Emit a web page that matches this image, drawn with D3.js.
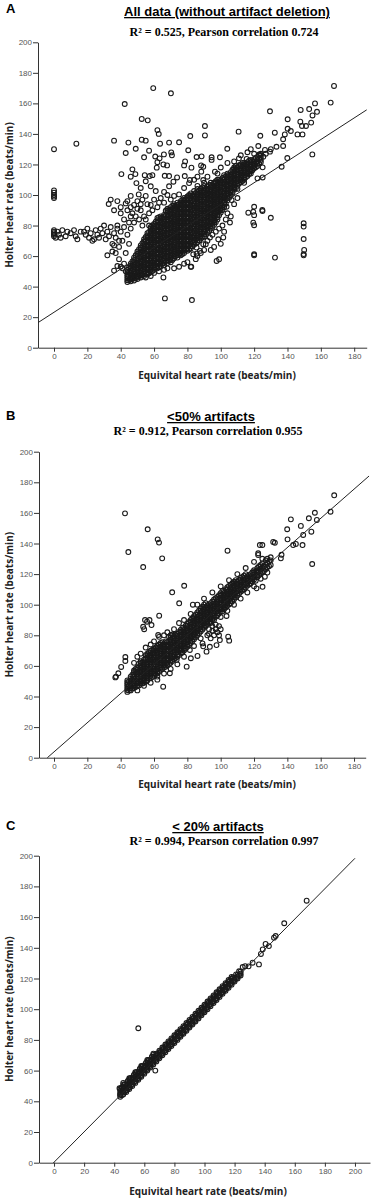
<!DOCTYPE html>
<html>
<head>
<meta charset="utf-8">
<script src="https://cdn.jsdelivr.net/npm/d3@7"></script>
<style>
  body { margin: 0; background: #fff; }
  svg { display: block; }
  .tick text { font-family: 'Liberation Sans', Arial, sans-serif; font-size: 8px; fill: #555; }
  .tick line, .domain { stroke: #333; }
</style>
</head>
<body>
<div id="chart"></div>
<script>
const panelLetters = ['A', 'B', 'C'];
const panelTitles = ['All data (without artifact deletion)', '<50% artifacts', '< 20% artifacts'];
const panelStats = [
  'R\u00b2 = 0.525, Pearson correlation 0.724',
  'R\u00b2 = 0.912, Pearson correlation 0.955',
  'R\u00b2 = 0.994, Pearson correlation 0.997'
];
const xTitle = 'Equivital heart rate (beats/min)';
const yTitle = 'Holter heart rate (beats/min)';
const yTicks = [0, 20, 40, 60, 80, 100, 120, 140, 160, 180, 200];
const xTicksAB = [0, 20, 40, 60, 80, 100, 120, 140, 160, 180];
const xTicksC = [0, 20, 40, 60, 80, 100, 120, 140, 160, 180, 200];

// fit lines: [intercept, slope, xStart, xEnd]
const fitA = [23.2, 0.707, -9.6, 187.5];
const fitB = [3.8, 0.954, -4, 189];
const fitC = [0.3, 0.99, -0.5, 200];

// dense cores, one column per entry: [x, y1, y2, ...]
const coreA = [
  [44, 43, 45.5, 48, 51],
  [46, 43.5, 46, 49, 52, 55],
  [48, 44, 47, 50, 53, 56, 59],
  [50, 45, 48, 51, 54, 57, 60, 63],
  [52, 46, 49, 52, 55, 58, 61, 64, 67],
  [54, 47, 50, 53, 56, 59, 62, 65, 68, 71],
  [56, 48, 51, 54, 57, 60, 63, 66, 69, 72, 75],
  [58, 49.5, 52.5, 55.5, 58.5, 61.5, 64.5, 67.5, 70.5, 73.5, 76.5, 79],
  [60, 51, 54, 57, 60, 63, 66, 69, 72, 75, 78, 81],
  [62, 52, 55, 58, 61, 64, 67, 70, 73, 76, 79, 82, 85],
  [64, 53.5, 56.5, 59.5, 62.5, 65.5, 68.5, 71.5, 74.5, 77.5, 80.5, 83.5, 86],
  [66, 54, 57, 60, 63, 66, 69, 72, 75, 78, 81, 84, 87],
  [68, 55.5, 58.5, 61.5, 64.5, 67.5, 70.5, 73.5, 76.5, 79.5, 82.5, 85.5, 88.5, 91],
  [70, 56, 59, 62, 65, 68, 71, 74, 77, 80, 83, 86, 89, 92],
  [72, 58.5, 61.5, 64.5, 67.5, 70.5, 73.5, 76.5, 79.5, 82.5, 85.5, 88.5, 91.5, 94],
  [74, 59, 62, 65, 68, 71, 74, 77, 80, 83, 86, 89, 92, 95],
  [76, 60.5, 63.5, 66.5, 69.5, 72.5, 75.5, 78.5, 81.5, 84.5, 87.5, 90.5, 93.5, 96],
  [78, 62, 65, 68, 71, 74, 77, 80, 83, 86, 89, 92, 95, 98],
  [80, 63.5, 66.5, 69.5, 72.5, 75.5, 78.5, 81.5, 84.5, 87.5, 90.5, 93.5, 96.5, 99],
  [82, 65, 68, 71, 74, 77, 80, 83, 86, 89, 92, 95, 98, 101],
  [84, 67.5, 70.5, 73.5, 76.5, 79.5, 82.5, 85.5, 88.5, 91.5, 94.5, 97.5, 100.5],
  [86, 69, 72, 75, 78, 81, 84, 87, 90, 93, 96, 99, 102, 104],
  [88, 71.5, 74.5, 77.5, 80.5, 83.5, 86.5, 89.5, 92.5, 95.5, 98.5, 101.5, 104],
  [90, 73, 76, 79, 82, 85, 88, 91, 94, 97, 100, 103, 106],
  [92, 75.5, 78.5, 81.5, 84.5, 87.5, 90.5, 93.5, 96.5, 99.5, 102.5, 105.5],
  [94, 78, 81, 84, 87, 90, 93, 96, 99, 102, 105, 108],
  [96, 80.5, 83.5, 86.5, 89.5, 92.5, 95.5, 98.5, 101.5, 104.5, 107.5],
  [98, 84, 87, 90, 93, 96, 99, 102, 105, 108, 110],
  [100, 88.5, 91.5, 94.5, 97.5, 100.5, 103.5, 106.5, 109.5],
  [102, 92, 95, 98, 101, 104, 107, 110, 113],
  [104, 96.5, 99.5, 102.5, 105.5, 108.5, 111.5, 114],
  [106, 100, 103, 106, 109, 112, 115],
  [108, 103.5, 106.5, 109.5, 112.5, 115.5, 118],
  [110, 106, 109, 112, 115, 118],
  [112, 108.5, 111.5, 114.5, 117.5, 120],
  [114, 110, 113, 116, 119, 121],
  [116, 112.5, 115.5, 118.5, 121.5],
  [118, 114, 117, 120, 123],
  [120, 117.5, 120.5, 123.5],
  [122, 119, 122, 125],
  [124, 121.5, 124.5, 127]
];

const coreAMid = [
  [44, 44.2, 46.8, 49.5],
  [46, 44.8, 47.5, 50.5, 53.5],
  [48, 45.5, 48.5, 51.5, 54.5, 57.5],
  [50, 46.5, 49.5, 52.5, 55.5, 58.5, 61.5],
  [52, 47.5, 50.5, 53.5, 56.5, 59.5, 62.5, 65.5],
  [54, 48.5, 51.5, 54.5, 57.5, 60.5, 63.5, 66.5, 69.5],
  [56, 49.5, 52.5, 55.5, 58.5, 61.5, 64.5, 67.5, 70.5, 73.5],
  [58, 51, 54, 57, 60, 63, 66, 69, 72, 75, 78],
  [60, 52.5, 55.5, 58.5, 61.5, 64.5, 67.5, 70.5, 73.5, 76.5, 79.5],
  [62, 53.5, 56.5, 59.5, 62.5, 65.5, 68.5, 71.5, 74.5, 77.5, 80.5, 83.5],
  [64, 55, 58, 61, 64, 67, 70, 73, 76, 79, 82, 85],
  [66, 55.5, 58.5, 61.5, 64.5, 67.5, 70.5, 73.5, 76.5, 79.5, 82.5, 85.5],
  [68, 57, 60, 63, 66, 69, 72, 75, 78, 81, 84, 87, 90],
  [70, 57.5, 60.5, 63.5, 66.5, 69.5, 72.5, 75.5, 78.5, 81.5, 84.5, 87.5, 90.5],
  [72, 60, 63, 66, 69, 72, 75, 78, 81, 84, 87, 90, 93],
  [74, 60.5, 63.5, 66.5, 69.5, 72.5, 75.5, 78.5, 81.5, 84.5, 87.5, 90.5, 93.5],
  [76, 62, 65, 68, 71, 74, 77, 80, 83, 86, 89, 92, 95],
  [78, 63.5, 66.5, 69.5, 72.5, 75.5, 78.5, 81.5, 84.5, 87.5, 90.5, 93.5, 96.5],
  [80, 65, 68, 71, 74, 77, 80, 83, 86, 89, 92, 95, 98],
  [82, 66.5, 69.5, 72.5, 75.5, 78.5, 81.5, 84.5, 87.5, 90.5, 93.5, 96.5, 99.5],
  [84, 69, 72, 75, 78, 81, 84, 87, 90, 93, 96, 99],
  [86, 70.5, 73.5, 76.5, 79.5, 82.5, 85.5, 88.5, 91.5, 94.5, 97.5, 100.5],
  [88, 73, 76, 79, 82, 85, 88, 91, 94, 97, 100, 103],
  [90, 74.5, 77.5, 80.5, 83.5, 86.5, 89.5, 92.5, 95.5, 98.5, 101.5, 104.5],
  [92, 77, 80, 83, 86, 89, 92, 95, 98, 101, 104],
  [94, 79.5, 82.5, 85.5, 88.5, 91.5, 94.5, 97.5, 100.5, 103.5, 106.5],
  [96, 82, 85, 88, 91, 94, 97, 100, 103, 106],
  [98, 85.5, 88.5, 91.5, 94.5, 97.5, 100.5, 103.5, 106.5],
  [100, 90, 93, 96, 99, 102, 105, 108],
  [102, 93.5, 96.5, 99.5, 102.5, 105.5, 108.5, 111.5],
  [104, 98, 101, 104, 107, 110, 113],
  [106, 101.5, 104.5, 107.5, 110.5, 113.5],
  [108, 105, 108, 111, 114, 117],
  [110, 107.5, 110.5, 113.5, 116.5],
  [112, 110, 113, 116, 119],
  [114, 111.5, 114.5, 117.5, 120],
  [116, 114, 117, 120],
  [118, 115.5, 118.5, 121.5],
  [120, 119, 122],
  [122, 120.5, 123.5],
  [124, 123, 126]
];

const coreAFill = [
  [45, 44.2, 47, 49.7, 52.5],
  [47, 45, 47.5, 50.5, 53.5, 56.5],
  [49, 45.5, 48.5, 51.5, 54.5, 57.5, 60.5],
  [51, 46.5, 49.5, 52.5, 55.5, 58.5, 61.5, 64.5],
  [53, 47.5, 50.5, 53.5, 56.5, 59.5, 62.5, 65.5, 68.5],
  [55, 48.5, 51.5, 54.5, 57.5, 60.5, 63.5, 66.5, 69.5, 72.5],
  [57, 48.8, 51.8, 54.8, 57.8, 60.8, 63.8, 66.8, 69.8, 72.8, 75.8],
  [59, 50.2, 53.2, 56.2, 59.2, 62.2, 65.2, 68.2, 71.2, 74.2, 77.2, 80],
  [61, 52.5, 55.5, 58.5, 61.5, 64.5, 67.5, 70.5, 73.5, 76.5, 79.5, 82.5],
  [63, 52.8, 55.8, 58.8, 61.8, 64.8, 67.8, 70.8, 73.8, 76.8, 79.8, 82.8, 85.5],
  [65, 55, 58, 61, 64, 67, 70, 73, 76, 79, 82, 85],
  [67, 56.7, 59.7, 62.7, 65.7, 68.7, 71.7, 74.7, 77.7, 80.7, 83.7, 86.7, 89.7],
  [69, 57, 60, 63, 66, 69, 72, 75, 78, 81, 84, 87, 90],
  [71, 57.5, 60.5, 63.5, 66.5, 69.5, 72.5, 75.5, 78.5, 81.5, 84.5, 87.5, 90.5, 93],
  [73, 60, 63, 66, 69, 72, 75, 78, 81, 84, 87, 90, 93],
  [75, 61.2, 64.2, 67.2, 70.2, 73.2, 76.2, 79.2, 82.2, 85.2, 88.2, 91.2, 94.2],
  [77, 61.3, 64.3, 67.3, 70.3, 73.3, 76.3, 79.3, 82.3, 85.3, 88.3, 91.3, 94.3, 97],
  [79, 64.2, 67.2, 70.2, 73.2, 76.2, 79.2, 82.2, 85.2, 88.2, 91.2, 94.2, 97.2],
  [81, 64.3, 67.3, 70.3, 73.3, 76.3, 79.3, 82.3, 85.3, 88.3, 91.3, 94.3, 97.3, 100],
  [83, 66.5, 69.5, 72.5, 75.5, 78.5, 81.5, 84.5, 87.5, 90.5, 93.5, 96.5, 99.5],
  [85, 68.3, 71.3, 74.3, 77.3, 80.3, 83.3, 86.3, 89.3, 92.3, 95.3, 98.3, 101.3],
  [87, 70.2, 73.2, 76.2, 79.2, 82.2, 85.2, 88.2, 91.2, 94.2, 97.2, 100.2, 103],
  [89, 72.2, 75.2, 78.2, 81.2, 84.2, 87.2, 90.2, 93.2, 96.2, 99.2, 102.2, 105],
  [91, 74.2, 77.2, 80.2, 83.2, 86.2, 89.2, 92.2, 95.2, 98.2, 101.2, 104.2],
  [93, 76.5, 79.5, 82.5, 85.5, 88.5, 91.5, 94.5, 97.5, 100.5, 103.5, 106.5],
  [95, 79.2, 82.2, 85.2, 88.2, 91.2, 94.2, 97.2, 100.2, 103.2, 106.2],
  [97, 82.2, 85.2, 88.2, 91.2, 94.2, 97.2, 100.2, 103.2, 106.2, 109],
  [99, 86.7, 89.7, 92.7, 95.7, 98.7, 101.7, 104.7, 107.7, 110],
  [101, 90.2, 93.2, 96.2, 99.2, 102.2, 105.2, 108.2, 111.2],
  [103, 94.2, 97.2, 100.2, 103.2, 106.2, 109.2, 112.2],
  [105, 98.2, 101.2, 104.2, 107.2, 110.2, 113.2],
  [107, 101.5, 104.5, 107.5, 110.5, 113.5, 116.5],
  [109, 104.5, 107.5, 110.5, 113.5, 116.5, 119],
  [111, 107.5, 110.5, 113.5, 116.5, 119.5],
  [113, 109.2, 112.2, 115.2, 118.2, 121],
  [115, 111.7, 114.7, 117.7, 120.7],
  [117, 113.7, 116.7, 119.7, 122.5],
  [119, 116.2, 119.2, 122.2],
  [121, 118.2, 121.2, 124.2],
  [123, 120.7, 123.7, 126.5]
];

const scatterA = [
  [0, 130], [0, 103], [0, 101.5], [0, 100], [0, 99], [0, 98],
  [0, 77], [0, 76], [0, 75], [0, 74], [0, 73], [1, 72], [2, 76], [3, 74], [4, 72], [5, 77],
  [7, 73], [8, 76], [10, 75], [12, 77], [13, 73], [14, 71], [16, 76], [18, 76], [19, 74],
  [20, 78], [21, 72], [22, 75], [23, 70], [24, 71], [25, 77], [26, 74], [27, 72], [28, 78],
  [29, 75], [30, 80], [31, 71], [32, 76], [33, 73], [34, 79], [35, 68], [36, 75], [37, 72],
  [38, 78], [39, 70], [32, 60.5], [32.8, 94.1],
  [13.4, 133.6], [42.4, 159.6], [59.5, 170], [70.1, 166.6], [52.6, 149.8], [56.2, 148.9],
  [62, 142.5], [62.8, 140], [36, 135.6], [44.6, 134.3], [52.6, 136.2], [55, 135.6],
  [63.6, 133.6], [69, 134.3], [75, 134.5], [81.7, 138.6], [43, 127.5], [49, 130.3], [57, 129],
  [54, 124.7], [60.7, 125.2], [63.3, 124], [65.9, 126.6], [70.3, 127.9], [70.7, 126],
  [80.5, 129.3], [85.5, 124.9], [88.5, 125.3], [62, 121.5], [65.6, 120], [67.8, 119.4],
  [61.6, 117.9], [78.6, 122], [78, 119.4], [82.4, 117.9], [88.2, 119.4], [40.4, 113.7],
  [47, 116.8], [48.8, 113.7], [46, 112], [54.4, 113], [57.4, 112.4], [59, 113], [66.4, 112.6],
  [69, 112.4], [71.6, 108.7], [73.8, 111.5], [78.4, 112.4], [81.5, 109.8], [86, 112],
  [88.3, 115.3], [49.4, 107.8], [52, 104.6], [55, 109], [58, 105.7], [50.8, 100.4],
  [55, 99.4], [61, 102.6], [66, 102], [69, 105.7], [72, 99.4], [75, 100.4], [78, 104.6],
  [81, 107.8], [84, 102.6], [43, 94.5], [46, 99.4], [48, 93.5], [58, 93.5],
  [40, 88], [42, 84], [44, 90], [46, 86], [48, 82], [50, 96], [52, 90], [54, 86], [56, 94],
  [60, 97], [62, 92], [64, 98], [66, 95], [68, 100], [70, 97], [38, 80], [40, 76], [42, 79],
  [44, 74], [46, 78], [36, 67], [39, 66], [41, 70], [43, 62], [45, 68], [35, 63], [37, 62],
  [39, 58], [40, 53], [41, 52], [36, 50.5], [38, 53.5], [42, 55], [43, 50], [46, 92],
  [51, 84], [53, 80], [57, 88], [34, 97], [38, 96], [40, 92], [36, 90], [44, 96], [47, 88],
  [50, 91], [53, 97], [55, 84], [57, 80], [45, 82], [49, 86], [52, 94], [59, 90], [63, 95],
  [47, 46], [50, 47], [52, 48], [55, 46], [58, 47], [60, 49], [63, 50], [66, 51], [68, 52],
  [72, 52], [75, 53], [78, 55], [80, 56], [82, 53], [65.6, 46], [66.5, 32.3], [82.7, 31.2],
  [82.3, 53], [85, 58], [86, 60], [88, 62], [90, 64], [83.5, 61.2], [85.5, 61.6], [87.5, 63.4],
  [85.5, 65.6], [89.5, 67.8], [91, 67.8], [93.5, 72.2], [98.5, 71], [101.5, 72.2],
  [105.5, 82], [103.5, 92.3], [106.5, 96.7], [97.5, 56.8], [99, 57.9], [92, 70], [95, 74],
  [97, 76], [99, 78], [101, 80], [103, 84], [104, 88], [96, 66], [94, 64], [100, 68],
  [102, 76], [106, 86], [108, 94], [110, 98],
  [116.5, 88.4], [120, 92.3], [119.5, 89], [120, 86.8], [125, 89.5], [130, 85.1],
  [119.5, 81.9], [120, 80.2], [120, 61.2], [120, 60.5], [132.5, 59], [149.7, 81.5],
  [149.7, 79.3], [149.7, 71.2], [150, 64], [149.7, 61.3], [149.7, 60.5], [124.9, 90.2],
  [167.9, 171.4], [165.9, 160.5], [156.5, 160], [157.7, 154.5], [153, 156.3], [155, 152.1],
  [147.9, 155.7], [154.2, 147.4], [140.1, 149.6], [151.1, 145.2], [147.7, 148], [148.7, 145.2],
  [140.1, 143.4], [142, 141.9], [146, 139.7], [149, 139.7], [138.4, 139.7], [137.4, 136.5],
  [132.4, 140.8], [129.5, 154.8], [123.7, 138.8], [110.7, 141.5], [103.9, 130.3], [90.5, 145.2],
  [90.5, 139], [137.4, 132.1], [133.4, 131.6], [122.5, 132.1], [126.5, 129.5], [129.5, 128.4],
  [125.5, 125.1], [139.9, 124.2], [154.9, 126.6], [136.5, 118.5], [125.1, 118.1], [122, 110.9],
  [125.1, 111.5], [110.9, 124], [115.5, 123.6], [99.5, 124.7], [94.5, 124.7], [94.5, 123],
  [89.5, 118.5], [89.5, 109.8], [96.5, 115.3],
  [100, 118], [104, 121], [108, 122], [112, 126], [116, 128], [118, 130], [120, 127],
  [123, 126], [127, 127], [130, 130], [112, 112], [116, 114], [118, 116], [92, 112], [96, 108],
  [98, 114], [93, 100], [90, 108], [86, 106], [84, 110], [110, 104], [114, 108]
];

const coreB = [
  [44, 43, 45.5, 48, 50.5],
  [45, 44, 47, 50],
  [46, 44, 47, 50, 53],
  [48, 45.5, 48.5, 51.5, 54.5, 57],
  [50, 47, 50, 53, 56, 59],
  [52, 48.5, 51.5, 54.5, 57.5, 60.5, 63],
  [54, 49, 52, 55, 58, 61, 64],
  [56, 50.5, 53.5, 56.5, 59.5, 62.5, 65.5, 68],
  [58, 52, 55, 58, 61, 64, 67, 70],
  [60, 53.5, 56.5, 59.5, 62.5, 65.5, 68.5, 71],
  [62, 55, 58, 61, 64, 67, 70, 73],
  [64, 57.5, 60.5, 63.5, 66.5, 69.5, 72.5, 75],
  [66, 59, 62, 65, 68, 71, 74],
  [68, 60.5, 63.5, 66.5, 69.5, 72.5, 75.5],
  [70, 62, 65, 68, 71, 74, 77, 80],
  [72, 64.5, 67.5, 70.5, 73.5, 76.5, 79.5],
  [74, 66, 69, 72, 75, 78, 81],
  [76, 68.5, 71.5, 74.5, 77.5, 80.5, 83.5],
  [78, 70, 73, 76, 79, 82, 85],
  [80, 72.5, 75.5, 78.5, 81.5, 84.5, 87.5],
  [82, 75, 78, 81, 84, 87, 90],
  [84, 77.5, 80.5, 83.5, 86.5, 89.5, 92.5],
  [86, 80, 83, 86, 89, 92, 95],
  [88, 82.5, 85.5, 88.5, 91.5, 94.5, 97.5],
  [90, 85, 88, 91, 94, 97, 100],
  [92, 87.5, 90.5, 93.5, 96.5, 99.5],
  [94, 89, 92, 95, 98, 101],
  [96, 91.5, 94.5, 97.5, 100.5, 103.5],
  [98, 93, 96, 99, 102, 105],
  [100, 95.5, 98.5, 101.5, 104.5, 107.5],
  [102, 97, 100, 103, 106, 109],
  [104, 99.5, 102.5, 105.5, 108.5, 111.5],
  [106, 101, 104, 107, 110, 113],
  [108, 103.5, 106.5, 109.5, 112.5, 115],
  [110, 106, 109, 112, 115],
  [112, 108.5, 111.5, 114.5, 117.5],
  [114, 110, 113, 116, 119],
  [116, 112.5, 115.5, 118.5],
  [118, 114, 117, 120],
  [120, 116.5, 119.5, 122.5],
  [122, 118, 121, 124],
  [124, 120.5, 123.5, 126],
  [126, 122, 125],
  [128, 124.5, 127.5],
  [130, 126, 129]
];

const coreBMid = [
  [44, 44.2, 46.8, 49.2],
  [46, 45.5, 48.5, 51.5],
  [48, 47, 50, 53, 56],
  [50, 48.5, 51.5, 54.5, 57.5],
  [52, 50, 53, 56, 59, 62],
  [54, 50.5, 53.5, 56.5, 59.5, 62.5],
  [56, 52, 55, 58, 61, 64, 67],
  [58, 53.5, 56.5, 59.5, 62.5, 65.5, 68.5],
  [60, 55, 58, 61, 64, 67, 70],
  [62, 56.5, 59.5, 62.5, 65.5, 68.5, 71.5],
  [64, 59, 62, 65, 68, 71, 74],
  [66, 60.5, 63.5, 66.5, 69.5, 72.5],
  [68, 62, 65, 68, 71, 74],
  [70, 63.5, 66.5, 69.5, 72.5, 75.5, 78.5],
  [72, 66, 69, 72, 75, 78],
  [74, 67.5, 70.5, 73.5, 76.5, 79.5],
  [76, 70, 73, 76, 79, 82],
  [78, 71.5, 74.5, 77.5, 80.5, 83.5],
  [80, 74, 77, 80, 83, 86],
  [82, 76.5, 79.5, 82.5, 85.5, 88.5],
  [84, 79, 82, 85, 88, 91],
  [86, 81.5, 84.5, 87.5, 90.5, 93.5],
  [88, 84, 87, 90, 93, 96],
  [90, 86.5, 89.5, 92.5, 95.5, 98.5],
  [92, 89, 92, 95, 98],
  [94, 90.5, 93.5, 96.5, 99.5],
  [96, 93, 96, 99, 102],
  [98, 94.5, 97.5, 100.5, 103.5],
  [100, 97, 100, 103, 106],
  [102, 98.5, 101.5, 104.5, 107.5],
  [104, 101, 104, 107, 110],
  [106, 102.5, 105.5, 108.5, 111.5],
  [108, 105, 108, 111, 114],
  [110, 107.5, 110.5, 113.5],
  [112, 110, 113, 116],
  [114, 111.5, 114.5, 117.5],
  [116, 114, 117],
  [118, 115.5, 118.5],
  [120, 118, 121],
  [122, 119.5, 122.5],
  [124, 122, 125]
];

const coreBFill = [
  [47, 45.2, 48.2, 51.2, 54.2],
  [49, 46.2, 49.2, 52.2, 55.2, 58],
  [51, 47.2, 50.2, 53.2, 56.2, 59.2, 61.5],
  [53, 48.5, 50.2, 53.2, 56.2, 59.2, 62.2],
  [55, 49.7, 52.7, 55.7, 58.7, 61.7, 64.7, 67],
  [57, 51.7, 54.7, 57.7, 60.7, 63.7, 66.7, 69],
  [59, 52.7, 55.7, 58.7, 61.7, 64.7, 67.7, 70.5],
  [61, 54.7, 57.7, 60.7, 63.7, 66.7, 69.7, 72],
  [63, 56.2, 59.2, 62.2, 65.2, 68.2, 71.2, 74],
  [65, 58.2, 61.2, 64.2, 67.2, 70.2, 73.2, 75.5],
  [67, 59.5, 61.2, 64.2, 67.2, 70.2, 73.2, 76],
  [69, 61.2, 64.2, 67.2, 70.2, 73.2, 76.2, 79],
  [71, 63.2, 66.2, 69.2, 72.2, 75.2, 78.2, 80.5],
  [73, 65.2, 68.2, 71.2, 74.2, 77.2, 80.2],
  [75, 67.2, 70.2, 73.2, 76.2, 79.2, 82.2],
  [77, 68.8, 70.7, 73.7, 76.7, 79.7, 82.7, 85],
  [79, 71.2, 74.2, 77.2, 80.2, 83.2, 86.2],
  [81, 73.7, 76.7, 79.7, 82.7, 85.7, 88.7],
  [83, 76.2, 79.2, 82.2, 85.2, 88.2, 91.2],
  [85, 78.7, 81.7, 84.7, 87.7, 90.7, 93.7],
  [87, 81.2, 84.2, 87.2, 90.2, 93.2, 96.2],
  [89, 83.7, 86.7, 89.7, 92.7, 95.7, 98.7],
  [91, 86.2, 89.2, 92.2, 95.2, 98.2, 101],
  [93, 88.2, 91.2, 94.2, 97.2, 100.2],
  [95, 90.2, 93.2, 96.2, 99.2, 102.2],
  [97, 92.2, 95.2, 98.2, 101.2, 104.2],
  [99, 94.2, 97.2, 100.2, 103.2, 106.2],
  [101, 95.5, 97.7, 100.7, 103.7, 106.7, 109],
  [103, 98.2, 101.2, 104.2, 107.2, 110.2],
  [105, 100.2, 103.2, 106.2, 109.2, 112.2],
  [107, 102.2, 105.2, 108.2, 111.2, 114],
  [109, 104.7, 107.7, 110.7, 113.7, 116],
  [111, 107.2, 110.2, 113.2, 116.2],
  [113, 109.2, 112.2, 115.2, 118.2],
  [115, 111.2, 114.2, 117.2, 120],
  [117, 113.2, 116.2, 119.2],
  [119, 115.2, 118.2, 121.2],
  [121, 115.7, 118.7, 121.7],
  [123, 119.2, 122.2, 125.2],
  [125, 121.2, 124.2, 127],
  [127, 123.2, 126.2, 129],
  [129, 125.2, 128.2]
];

const scatterB = [
  [42.6, 159.7], [56.2, 149.3], [62.2, 142.7], [63, 140.6], [44.6, 134.4], [53.5, 124.6],
  [64.9, 130.3], [78.1, 112.4], [70.9, 108.1], [75.1, 100.9], [83.3, 100], [63.1, 92.8],
  [54.6, 90], [55.8, 88.9], [53.5, 85.6], [54.1, 84], [58.5, 86.7], [57.3, 90], [62.5, 80.2],
  [104.1, 135.3], [123.5, 139], [122.5, 132.5], [132.5, 140.5], [121.5, 110.7], [125.1, 111.7],
  [126.5, 118.3], [136.1, 130.3], [136.5, 132.6], [140.1, 142.7], [139.9, 149.3], [142.1, 155.8],
  [149.5, 145.6], [148.1, 151.5], [152.9, 156.5], [156.5, 160.1], [154.4, 147.7], [154.9, 126.6],
  [165.9, 160.8], [168.1, 171.5], [157.7, 155.4], [143.5, 139], [145.1, 139.7], [149.1, 139],
  [131.5, 141], [125, 139], [122.5, 133.6],
  [65.5, 46.4], [86.1, 66.5], [91.5, 69.3], [89.1, 74.7], [89.5, 72.8], [93.5, 72.5],
  [97.5, 73.6], [99.5, 76.9], [104.5, 79.1], [105.1, 76.5], [103.5, 92.6], [38.6, 55.2],
  [37.2, 53], [36.8, 52.5], [40.3, 59.3], [42.8, 65.8], [42.8, 63.2], [81.5, 70.4], [82.1, 65],
  [79.6, 59.5], [76.6, 68.6], [73.6, 64], [69.5, 55.2], [62, 51],
  [92, 80], [94, 78], [96, 80], [98, 82], [93, 84], [95, 86], [97, 84], [99, 86], [94, 88],
  [96, 90], [100, 84], [91, 86], [93, 81], [95, 83], [97, 87], [99, 80],
  [48, 62], [50, 66], [52, 68], [55, 72], [58, 74], [60, 76], [63, 79], [66, 80], [68, 82],
  [72, 84], [75, 88], [78, 90], [82, 94], [86, 100], [90, 104], [95, 108], [100, 112],
  [105, 116], [110, 120], [115, 124], [120, 128], [125, 130], [128, 130], [130, 131],
  [50, 44], [54, 47], [58, 49], [62, 53], [66, 55], [70, 58], [74, 61], [78, 66], [84, 73],
  [88, 78], [100, 92], [104, 96], [108, 100], [112, 104], [116, 108], [120, 112], [124, 117],
  [128, 121]
];

const coreC = [
  [44, 43, 45.5, 48], [45, 44, 46.5, 49], [46, 44.5, 47, 49.5, 52], [48, 46, 48.5, 51],
  [50, 48, 50.5, 53, 55], [52, 50, 52.5, 55], [54, 52, 54.5, 57, 59], [56, 54, 56.5, 59],
  [58, 56, 58.5, 61, 63], [60, 58, 60.5, 63], [62, 60, 62.5, 65, 67], [64, 62, 64.5, 67],
  [66, 64, 66.5, 69, 71], [68, 66, 68.5, 71], [70, 68, 70.5, 73], [72, 70, 72.5, 75],
  [74, 72, 74.5, 77], [76, 74, 76.5, 79], [78, 76, 78.5, 81], [80, 78, 80.5, 83],
  [82, 80, 82.5, 85], [84, 82, 84.5, 87], [86, 84, 86.5, 89], [88, 86, 88.5, 91],
  [90, 88, 90.5, 93], [92, 90, 92.5, 95], [94, 92, 94.5, 97], [96, 94, 96.5, 99],
  [98, 96, 98.5, 101], [100, 98, 100.5, 103], [102, 100, 102.5, 105], [104, 102, 104.5, 107],
  [106, 104, 106.5, 109], [108, 106, 108.5, 111], [110, 108, 110.5, 113], [112, 110, 112.5, 115],
  [114, 112, 114.5, 117], [116, 114, 116.5, 119], [118, 116, 118.5, 121], [120, 118, 120.5],
  [122, 120, 122.5], [124, 122, 124.5]
];

const coreCMid = [
  [44, 44.2, 46.8], [46, 45.8, 48.2, 50.8], [48, 47.2, 49.8], [50, 49.2, 51.8, 54.2],
  [52, 51.2, 53.8], [54, 53.2, 55.8, 58.2], [56, 55.2, 57.8], [58, 57.2, 59.8, 62.2],
  [60, 59.2, 61.8], [62, 61.2, 63.8, 66.2], [64, 63.2, 65.8], [66, 65.2, 67.8, 70.2],
  [68, 67.2, 69.8], [70, 69.2, 71.8], [72, 71.2, 73.8], [74, 73.2, 75.8], [76, 75.2, 77.8],
  [78, 77.2, 79.8], [80, 79.2, 81.8], [82, 81.2, 83.8], [84, 83.2, 85.8], [86, 85.2, 87.8],
  [88, 87.2, 89.8], [90, 89.2, 91.8], [92, 91.2, 93.8], [94, 93.2, 95.8], [96, 95.2, 97.8],
  [98, 97.2, 99.8], [100, 99.2, 101.8], [102, 101.2, 103.8], [104, 103.2, 105.8],
  [106, 105.2, 107.8], [108, 107.2, 109.8], [110, 109.2, 111.8], [112, 111.2, 113.8],
  [114, 113.2, 115.8], [116, 115.2, 117.8], [118, 117.2, 119.8], [120, 119.2], [122, 121.2],
  [124, 123.2]
];

const coreCFill = [
  [47, 46.2, 48.7, 51.2], [49, 48.2, 50.7, 53.2], [51, 50.2, 52.7, 55.2], [53, 52.2, 54.7, 57.2],
  [55, 54.2, 56.7, 59.2], [57, 56.2, 58.7, 61.2], [59, 58.2, 60.7, 63.2], [61, 60.2, 62.7, 65],
  [63, 62.2, 64.7, 67], [65, 64.2, 66.7, 69], [67, 66.2, 68.7], [69, 68.2, 70.7],
  [71, 70.2, 72.7], [73, 72.2, 74.7], [75, 74.2, 76.7], [77, 76.2, 78.7], [79, 78.2, 80.7],
  [81, 80.2, 82.7], [83, 82.2, 84.7], [85, 84.2, 86.7], [87, 86.2, 88.7], [89, 88.2, 90.7],
  [91, 90.2, 92.7], [93, 92.2, 94.7], [95, 94.2, 96.7], [97, 96.2, 98.7], [99, 98.2, 100.7],
  [101, 100.2, 102.7], [103, 102.2, 104.7], [105, 104.2, 106.7], [107, 106.2, 108.7],
  [109, 108.2, 110.7], [111, 110.2, 112.7], [113, 112.2, 114.7], [115, 114.2, 116.7],
  [117, 116.2, 118.7], [119, 118.2, 120.7], [121, 120.2, 122.7], [123, 122.2, 124.7]
];

const scatterC = [
  [56, 87.6], [67.3, 60], [167.9, 170.7], [153, 156], [147.3, 147.7], [146.2, 146.6],
  [140.6, 142.5], [142.8, 141.1], [138.7, 139], [137.5, 136], [136.2, 129.2], [132, 130.3],
  [129.3, 127.9], [125.4, 127.5], [127, 128], [43.5, 48.5], [44, 44.5]
];

const columnsToPoints = cols => cols.flatMap(([x, ...ys]) => ys.map(y => [x, y]));

const svg = d3.select('#chart').append('svg')
  .attr('width', 372)
  .attr('height', 1198)
  .attr('viewBox', '0 0 372 1198');

svg.append('rect').attr('width', 372).attr('height', 1198).attr('fill', '#fff');

const panels = [
  {
    points: columnsToPoints(coreA.concat(coreAMid, coreAFill)).concat(scatterA), fit: fitA,
    xDomain: [-9.6, 187.5], xTicks: xTicksAB, xRange: [38, 366.7], yRange: [347.7, 42.3],
    letterY: 13, titleX: 227, titleY: 16, statX: 224, statY: 36, xTitleX: 217, xTitleY: 379
  },
  {
    points: columnsToPoints(coreB.concat(coreBMid, coreBFill)).concat(scatterB), fit: fitB,
    xDomain: [-9, 187], xTicks: xTicksAB, xRange: [39, 365.7], yRange: [757.7, 451.7],
    letterY: 420, titleX: 211, titleY: 421, statX: 208, statY: 434.5, xTitleX: 217, xTitleY: 788
  },
  {
    points: columnsToPoints(coreC.concat(coreCMid, coreCFill)).concat(scatterC), fit: fitC,
    xDomain: [-10, 210], xTicks: xTicksC, xRange: [39, 370], yRange: [1162.7, 855.7],
    letterY: 830, titleX: 218, titleY: 831, statX: 224, statY: 844.5, xTitleX: 208, xTitleY: 1195
  }
];

panels.forEach((p, i) => {
  const g = svg.append('g');
  const x = d3.scaleLinear().domain(p.xDomain).range(p.xRange);
  const y = d3.scaleLinear().domain([0, 200]).range(p.yRange);

  g.append('text')
    .attr('x', 6).attr('y', p.letterY)
    .style('font-family', "'Liberation Sans', Arial, sans-serif")
    .style('font-weight', 'bold').style('font-size', '13px')
    .text(panelLetters[i]);

  g.append('text')
    .attr('x', p.titleX).attr('y', p.titleY)
    .attr('text-anchor', 'middle')
    .style('font-family', "'Liberation Sans', Arial, sans-serif")
    .style('font-weight', 'bold').style('font-size', '13px')
    .style('text-decoration', 'underline')
    .text(panelTitles[i]);

  g.append('text')
    .attr('x', p.statX).attr('y', p.statY)
    .attr('text-anchor', 'middle')
    .style('font-family', "'Liberation Serif', 'Times New Roman', serif")
    .style('font-weight', 'bold').style('font-size', '12px')
    .text(panelStats[i]);

  // axes
  g.append('g')
    .attr('transform', `translate(${p.xRange[0]},0)`)
    .call(d3.axisLeft(y).tickValues(yTicks).tickSize(5).tickSizeOuter(0).tickPadding(1));

  g.append('g')
    .attr('transform', `translate(0,${p.yRange[0]})`)
    .call(d3.axisBottom(x).tickValues(p.xTicks).tickSize(4).tickSizeOuter(0).tickPadding(2));

  g.append('text')
    .attr('x', p.xTitleX).attr('y', p.xTitleY)
    .attr('text-anchor', 'middle')
    .style('font-family', "'Open Sans', sans-serif")
    .style('font-weight', 'bold').style('font-size', '10px')
    .attr('fill', '#222')
    .text(xTitle);

  g.append('text')
    .attr('transform', `translate(13,${(p.yRange[0] + p.yRange[1]) / 2})rotate(-90)`)
    .attr('text-anchor', 'middle')
    .style('font-family', "'Open Sans', sans-serif")
    .style('font-weight', 'bold').style('font-size', '10px')
    .attr('fill', '#222')
    .text(yTitle);

  // points
  g.append('g').selectAll('circle')
    .data(p.points)
    .enter()
    .append('circle')
    .attr('cx', d => x(d[0]))
    .attr('cy', d => y(d[1]))
    .attr('r', 2.4)
    .attr('fill', 'none')
    .attr('stroke', '#1a1a1a')
    .attr('stroke-width', 1.1);

  // fit line
  const [a, b, x0, x1] = p.fit;
  g.append('line')
    .attr('x1', x(x0)).attr('y1', y(a + b * x0))
    .attr('x2', x(x1)).attr('y2', y(a + b * x1))
    .attr('stroke', '#222')
    .attr('stroke-width', 1);
});
</script>
</body>
</html>
